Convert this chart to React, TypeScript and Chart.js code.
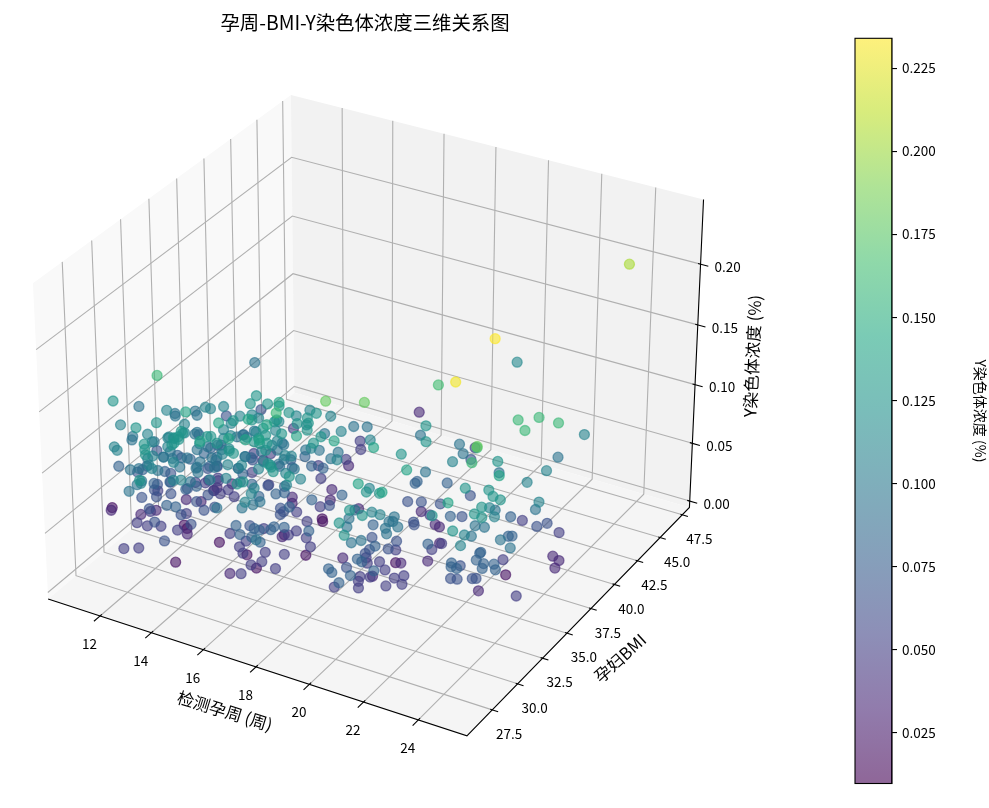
import React, { useEffect, useRef } from "react";
import { Chart, registerables } from "chart.js";
Chart.register(...registerables);

const weeks = [11.9,12.4,10.5,10.1,10.9,12.1,11.7,11.4,11.5,13.6,11.9,12.1,12.7,12.9,13.2,14.4,14.5,11.7,12.5,12.7,12.0,11.0,11.1,
12.9,11.8,11.5,11.7,12.7,12.9,13.6,13.6,13.0,13.7,13.7,12.7,12.7,12.2,14.9,14.6,14.0,14.0,15.6,15.1,12.5,14.3,13.1,13.3,12.9,10.9,12.6,12.6,12.3,13.3,13.7,11.0,12.1,12.3,13.1,12.9,15.0,14.5,13.5,14.9,15.7,14.0,14.0,14.1,16.2,15.0,16.1,13.3,13.0,13.5,14.0,15.7,14.8,14.9,14.0,15.7,15.2,13.9,13.6,15.3,15.1,13.2,18.8,19.9,15.0,15.9,15.4,17.0,15.9,14.6,
15.6,15.8,16.7,16.6,16.5,16.8,17.0,17.5,13.5,16.2,16.6,16.4,17.6,17.4,18.7,17.0,17.4,18.5,15.9,16.2,20.0,15.8,15.8,16.3,15.3,16.4,15.9,15.7,16.6,16.3,15.6,13.7,13.2,15.6,16.4,17.6,17.1,16.8,17.4,17.4,18.2,16.1,15.8,16.1,15.7,16.0,16.7,16.5,15.5,16.9,16.2,17.2,15.6,16.3,14.0,13.5,12.8,12.1,12.6,12.2,12.5,13.0,12.8,13.7,14.0,13.7,12.2,13.8,12.7,14.3,
14.5,15.8,12.1,14.5,14.2,13.9,12.8,13.3,13.9,13.6,13.7,14.1,17.0,16.5,16.7,16.8,16.9,16.8,16.8,16.9,15.7,15.3,9.7,10.4,12.7,11.4,12.2,11.7,13.3,12.2,12.6,13.0,13.8,13.3,12.4,12.6,14.4,13.6,13.4,14.2,12.7,13.1,14.0,13.4,15.9,16.8,16.3,
16.1,15.2,16.7,16.9,17.1,17.1,17.9,15.9,15.9,16.2,15.2,17.5,16.8,15.9,16.0,16.1,18.3,17.6,15.2,16.6,16.4,15.3,16.0,17.6,18.0,17.8,17.4,20.7,20.6,20.0,21.0,21.6,16.4,17.7,16.9,17.2,15.4,16.6,16.4,16.6,16.4,17.5,20.7,19.7,21.2,20.8,21.1,19.8,16.2,16.3,17.0,20.8,20.0,20.1,21.0,21.1,21.0,21.4,21.1,21.3,21.3,20.6,20.8,19.9,20.8,20.2,20.7,20.7,20.4,18.5,
17.5,17.9,16.9,17.0,16.2,16.9,16.2,17.4,16.0,17.7,17.4,16.8,17.0,17.6,17.4,18.6,20.1,20.2,20.7,19.8,20.9,20.0,20.3,19.7,20.7,21.5,20.2,20.4,21.0,20.2,20.3,20.5,20.0,21.2,20.9,19.8,21.2,20.5,16.1,20.2,19.2,20.7,23.9,24.4,24.4,25.1,24.4,20.6,24.3,23.6,19.5,21.0,20.3,23.9,21.5,23.3,23.8,24.4,22.6,24.3,20.5,21.6,20.4,20.0,20.0,20.9,24.2,23.2,23.9,21.4,
24.2,24.5,19.8,20.2,20.8,23.7,25.1,24.7,24.2,23.9,23.6,19.4,20.3,23.1,24.2,22.0,21.8,24.3,24.5,23.7,23.1,20.6,20.7,20.2,20.4,23.5,23.8,24.2,24.4,24.1,24.5,24.0,23.7,24.6,24.2,24.3,22.2,20.9,21.5,24.2,25.1,21.4,23.9,23.9,24.0,24.3,24.6,23.7,24.5,24.8,21.1,23.4,23.2,23.5,23.7,24.4,24.8,24.9,23.2,23.3,23.5,23.9,24.0,21.4,21.6,23.4,25.1,20.4,23.9,23.6,
23.7,20.4,20.8,
12.6,12.9,13.4,12.5,12.8,13.9,13.8,14.1,13.0,14.0,13.8,13.0,13.8,14.4,14.3,12.4,12.1,11.7,13.1,12.5,12.8,12.7,13.1,12.2,11.8,11.8,11.1,12.8,12.8,13.3,12.5,12.7,13.5,13.5,12.4,13.0,13.7,
14.2,14.4,14.8,15.5,14.9,14.5,15.1,14.8,13.8,13.1,15.9,15.9,16.0,16.5,15.9,15.5,15.5,17.0,16.5,16.1,16.6,16.8,14.4,14.3,13.5,14.3,14.3,13.1,13.2,13.0,13.0,15.0,15.4,14.7,16.4,17.2,16.0,12.7];

const bmis = [39.8,29.8,30.1,33.2,29.8,28.5,32.1,33.5,33.3,29.5,34.2,33.9,33.3,33.3,33.8,34.0,33.2,37.5,29.4,31.4,29.7,30.6,30.3,
27.4,30.7,27.9,27.7,29.9,30.0,28.8,29.2,30.7,28.2,28.6,32.5,32.3,33.8,29.4,31.4,32.6,33.4,30.4,31.9,38.9,33.8,27.0,26.6,28.1,32.9,29.7,30.3,31.6,30.2,28.1,29.3,27.9,28.2,27.3,28.5,27.5,29.6,31.6,29.2,28.4,31.9,33.1,33.4,28.7,32.5,30.2,31.1,32.4,32.4,31.7,28.8,30.5,31.7,34.5,29.5,32.5,29.7,31.5,29.2,30.6,33.1,29.7,30.5,33.6,32.5,33.7,29.6,33.4,33.7,
34.8,35.6,34.0,33.4,32.7,33.0,32.4,30.2,39.6,34.3,35.6,35.5,32.2,34.6,30.7,36.8,37.1,34.6,40.2,39.5,31.1,32.5,32.3,30.4,33.9,31.5,32.3,31.5,29.0,30.4,33.6,36.9,36.5,33.0,33.7,31.5,32.5,34.0,34.3,33.6,32.2,38.3,39.3,32.4,34.0,34.6,31.9,34.0,37.1,34.1,30.3,28.6,33.2,29.6,24.5,25.7,26.2,28.8,28.8,29.7,29.2,29.3,29.8,27.4,27.5,29.1,32.5,29.8,32.7,29.3,
29.8,27.0,31.4,26.9,28.4,29.6,32.9,32.5,30.6,32.4,32.9,32.5,26.7,27.6,28.1,28.5,27.5,28.0,26.5,26.8,28.1,27.6,31.4,29.8,28.1,30.2,29.3,30.9,27.2,28.1,28.1,28.4,28.4,30.0,31.8,31.6,27.9,28.5,29.8,26.0,25.8,26.2,31.3,28.7,27.8,26.7,27.5,29.2,29.5,26.9,27.7,27.7,27.0,25.5,29.3,28.7,28.3,31.0,26.8,27.6,30.2,36.1,36.9,32.4,31.3,35.3,31.2,30.9,32.8,30.3,
29.0,28.3,29.8,28.3,27.9,28.9,30.7,29.1,27.8,36.0,32.7,33.8,30.2,34.8,31.1,31.3,30.8,32.8,36.0,27.1,30.1,27.0,28.9,28.9,29.3,35.7,35.5,32.3,25.9,28.6,30.8,30.5,30.1,30.0,29.8,29.4,29.0,25.1,27.5,27.9,31.2,29.2,30.2,30.7,31.5,32.2,28.8,31.0,30.4,32.4,31.3,32.1,30.8,31.9,28.0,30.7,28.5,28.3,28.9,28.1,27.9,29.2,31.7,28.3,29.8,27.8,30.9,27.7,30.5,30.9,
34.0,30.4,27.3,26.4,26.2,26.4,29.3,28.9,29.5,31.0,30.0,25.6,27.9,29.2,28.4,45.7,35.6,37.7,34.3,34.7,35.4,34.0,35.4,40.2,37.9,29.6,31.5,42.5,37.2,39.9,30.2,34.8,34.4,39.2,36.3,36.5,31.8,34.8,30.1,32.7,35.1,35.3,35.9,34.9,31.5,31.9,36.9,31.5,31.4,34.9,35.2,35.5,28.5,33.6,34.4,30.4,32.0,33.4,37.3,35.8,28.6,29.7,33.3,35.0,31.4,29.6,34.7,37.6,33.4,33.2,
36.6,36.5,31.7,31.8,36.0,36.5,27.9,37.5,29.3,30.8,31.2,33.1,33.2,30.6,35.2,33.8,28.4,30.8,33.1,31.2,31.1,30.5,30.4,30.6,34.0,36.9,36.7,33.5,29.7,31.1,29.4,29.4,30.0,30.2,36.0,35.7,29.9,30.0,30.4,30.5,30.4,29.7,32.4,31.5,32.7,46.0,33.1,29.1,44.3,35.2,
29.7,29.8,29.3,31.5,31.6,29.6,30.2,29.3,32.7,30.8,31.7,33.0,30.2,29.5,26.7,30.7,30.2,31.1,30.6,32.7,33.2,33.9,33.4,29.2,30.0,29.6,30.7,27.3,26.9,27.1,30.0,30.0,28.6,29.3,29.2,29.2,28.0,
30.7,30.1,29.9,28.9,31.7,33.2,30.6,31.7,34.9,37.6,30.2,30.6,31.0,29.8,31.8,33.7,33.1,28.8,30.2,31.9,31.3,31.4,31.6,31.2,34.9,33.3,34.0,33.4,33.5,33.6,34.9,31.0,31.1,34.3,31.7,29.9,33.4,34.2];

const concs = [.095,.16,.125,.095,.11,.125,.11,.095,.095,.14,.095,.095,.11,.11,.11,.125,.125,.065,.125,.11,.11,.095,.095,.125,.095,.11,.11,.11,.11,.125,.125,.11,.125,.125,.095,.095,.08,.14,.125,.11,.11,.14,.125,.065,.11,.125,.125,.11,.065,.095,.095,.08,.095,.11,.08,.095,.095,.11,.095,.14,.125,.095,.125,.14,.11,.095,.095,.14,.11,.125,.095,.08,.08,.095,.125,.11,.095,.065,.11,.095,.095,.08,.11,.095,.065,
.18,.18,.125,.14,.125,.16,.125,.11,.11,.11,.125,.125,.125,.125,.125,.14,.05,.11,.11,.095,.125,.11,.14,.095,.095,.11,.05,.05,.14,.125,.125,.14,.11,.125,.11,.125,.14,.125,.095,.05,.05,.095,.095,.125,.11,.095,.095,.095,.11,.05,.035,.095,.08,.08,.095,.08,.05,.08,.11,.125,.08,.11,
.125,.11,.095,.065,.08,.065,.065,.08,.065,.08,.08,.08,.035,.065,.035,.065,.065,.095,.065,.11,.095,.08,.05,.05,.065,.05,.05,.05,.11,.095,.095,.095,.11,.11,.125,.125,.11,.11,.02,.035,.065,.035,.05,.035,.065,.05,.05,.05,.065,.05,.02,.02,.065,.05,.035,.065,.05,.05,.02,.02,.035,.05,.08,.065,.05,.08,.08,.08,.08,.095,.05,.05,.05,.02,.08,.05,.02,
.05,.035,.08,.08,.035,.08,.08,.065,.08,.11,.125,.11,.125,.14,.125,.11,.125,.14,.035,.065,.05,.08,.035,.065,.065,.065,.05,.035,.125,.095,.125,.11,.11,.095,.02,.02,.05,.125,.095,.08,.095,.095,.095,.095,.095,.095,.125,.095,.095,.065,.08,.065,.065,.065,.05,.08,.05,.05,.02,.05,.035,.05,.035,.08,.05,.08,.08,.05,.05,.05,.05,.035,.065,.065,.08,.05,.08,.05,.05,.02,.05,.08,.08,.08,.08,.05,.05,.05,.035,.05,.08,.05,.05,.05,
.035,.125,.095,.125,.16,.16,.16,.16,.11,.095,.18,.16,.05,.095,.065,.16,.11,.125,.095,.11,.095,.14,.095,.14,.125,.08,.08,.08,.11,.125,.125,.065,.125,.125,.065,.065,.065,.14,.11,.095,.125,.11,.095,.035,.05,.125,.125,.08,.065,.11,.125,.08,.05,.065,.065,.035,.035,.095,.095,.065,.065,.125,.05,.11,.095,.095,.08,.08,.08,.035,.05,.11,.095,.05,.08,.08,.08,.08,.08,.05,.035,.035,.035,.08,.065,.08,.08,.08,.08,.035,.02,.065,.065,.065,.065,.05,.05,.035,.05,.035,
.205,.234,.23,.115,.165,
.095,.095,.095,.08,.08,.095,.095,.095,.065,.095,.08,.08,.11,.125,.11,.065,.065,.05,.065,.05,.05,.035,.05,.095,.08,.08,.065,.095,.095,.11,.08,.11,.125,.125,.11,.11,.125,
.095,.095,.11,.125,.095,.08,.095,.08,.05,.035,.125,.125,.125,.125,.11,.095,.11,.125,.11,.095,.11,.11,.11,.11,.08,.095,.095,.08,.08,.05,.035,.08,.08,.05,.08,.11,.08,.035];

const weekTicks = [12, 14, 16, 18, 20, 22, 24];
const bmiTicks = [27.5, 30, 32.5, 35, 37.5, 40, 42.5, 45, 47.5];
const concTicks = [0, 0.05, 0.1, 0.15, 0.2];
const barTicks = [0.025, 0.05, 0.075, 0.1, 0.125, 0.15, 0.175, 0.2, 0.225];
const VMIN = 0.0097, VMAX = 0.234;
const VIRIDIS = [[68,1,84],[72,36,117],[65,68,135],[53,95,141],[42,120,142],[33,145,140],[34,168,132],[68,191,112],[122,209,81],[189,223,38],[253,231,37]];
const ALPHA = 0.6;

const viridis = (t: number) => {
  const f = Math.max(0, Math.min(1, t)) * 10, i = Math.min(9, Math.floor(f)), r = f - i;
  const c = VIRIDIS[i].map((v, n) => Math.round(v + (VIRIDIS[i + 1][n] - v) * r));
  return `rgba(${c[0]},${c[1]},${c[2]},${ALPHA})`;
};

// matplotlib's mplot3d projection: elev 30, azim -60, box aspect 4:4:3
const BX = 1.1905, BY = 1.1905, BZ = 0.8929, K = 4030, CX = 374.7, CY = 400;
const AU = [0.866025, 0.5, 0], AV = [-0.25, 0.43301, 0.866025], AW = [0.43301, -0.75, 0.5];
const X0 = 9.95, X1 = 25.75, Y0 = 25.06, Y1 = 48.31, Z0 = -0.0056, Z1 = 0.2522;
const dot = (a: number[], b: number[]) => a[0] * b[0] + a[1] * b[1] + a[2] * b[2];
const project = (x: number, y: number, z: number) => {
  const q = [BX * ((x - X0) / (X1 - X0) - 0.5), BY * ((y - Y0) / (Y1 - Y0) - 0.5), BZ * ((z - Z0) / (Z1 - Z0) - 0.5)];
  const d = 10 - dot(q, AW);
  return { x: CX + (K * dot(q, AU)) / d, y: CY - (K * dot(q, AV)) / d, d };
};

const SANS = '"Noto Sans CJK SC"';
const GRID = "rgb(176,176,176)";

const axes3d = {
  id: "axes3d",
  beforeDatasetsDraw(chart: any) {
    const { ctx } = chart;
    const sx = chart.scales.x, sy = chart.scales.y;
    const P = (x: number, y: number, z: number) => {
      const p = project(x, y, z);
      return [sx.getPixelForValue(p.x), sy.getPixelForValue(p.y)];
    };
    const path = (pts: number[][], stroke?: string, w?: number, fill?: string) => {
      ctx.beginPath();
      pts.forEach((p, i) => (i ? ctx.lineTo(p[0], p[1]) : ctx.moveTo(p[0], p[1])));
      if (fill) { ctx.closePath(); ctx.fillStyle = fill; ctx.fill(); }
      if (stroke) { ctx.strokeStyle = stroke; ctx.lineWidth = w; ctx.stroke(); }
    };
    const text = (s: string, x: number, y: number, font: string, rot = 0) => {
      ctx.save();
      ctx.translate(x, y);
      ctx.rotate((rot * Math.PI) / 180);
      ctx.font = font;
      ctx.fillStyle = "#000";
      ctx.textAlign = "center";
      ctx.textBaseline = "middle";
      ctx.fillText(s, 0, 0);
      ctx.restore();
    };
    ctx.save();
    path([P(X0, Y0, Z0), P(X0, Y1, Z0), P(X0, Y1, Z1), P(X0, Y0, Z1)], undefined, 0, "rgb(249,249,249)");
    path([P(X0, Y1, Z0), P(X1, Y1, Z0), P(X1, Y1, Z1), P(X0, Y1, Z1)], undefined, 0, "rgb(242,242,242)");
    path([P(X0, Y0, Z0), P(X1, Y0, Z0), P(X1, Y1, Z0), P(X0, Y1, Z0)], undefined, 0, "rgb(245,245,245)");
    const LW = 1.1;
    weekTicks.forEach((t) => path([P(t, Y0, Z0), P(t, Y1, Z0), P(t, Y1, Z1)], GRID, LW));
    bmiTicks.forEach((t) => path([P(X1, t, Z0), P(X0, t, Z0), P(X0, t, Z1)], GRID, LW));
    concTicks.forEach((t) => path([P(X0, Y0, t), P(X0, Y1, t), P(X1, Y1, t)], GRID, LW));
    path([P(X0, Y0, Z0), P(X1, Y0, Z0), P(X1, Y1, Z0), P(X1, Y1, Z1)], "#000", LW);
    const dx = X1 - X0, dy = Y1 - Y0;
    const tickFont = `13.5px ${SANS}`;
    weekTicks.forEach((t) => {
      path([P(t, Y0 - 0.023 * dy, Z0), P(t, Y0 + 0.007 * dy, Z0)], "#000", LW);
      const p = P(t, Y0, Z0);
      text(String(t), p[0] - 10.5, p[1] + 28, tickFont);
    });
    bmiTicks.forEach((t) => {
      path([P(X1 - 0.0045 * dx, t, Z0), P(X1 + 0.0135 * dx, t, Z0)], "#000", LW);
      const p = P(X1, t, Z0);
      text(t.toFixed(1), p[0] + 17, p[1] + 24, tickFont);
    });
    concTicks.forEach((t) => {
      path([P(X1 - 0.006 * dx, Y1, t), P(X1 + 0.018 * dx, Y1, t)], "#000", LW);
      const p = P(X1, Y1, t);
      text(t.toFixed(2), p[0] + 27, p[1] + 2.5, tickFont);
    });
    text("孕周-BMI-Y染色体浓度三维关系图", 365, 23, `19.4px ${SANS}`);
    text("检测孕周 (周)", 225, 711, `16.7px ${SANS}`, 17);
    text("孕妇BMI", 620, 658, `16.7px ${SANS}`, -42);
    text("Y染色体浓度 (%)", 752.5, 356, `16.7px ${SANS}`, -87.5);
    ctx.restore();
  },
};

const barFrame = {
  id: "barFrame",
  afterDatasetsDraw(chart: any) {
    const { ctx, chartArea: a } = chart;
    ctx.save();
    ctx.strokeStyle = "#000";
    ctx.lineWidth = 1.1;
    ctx.strokeRect(a.left, a.top, a.right - a.left, a.bottom - a.top);
    ctx.restore();
  },
};

export default function App() {
  const mainRef = useRef<HTMLCanvasElement>(null);
  const barRef = useRef<HTMLCanvasElement>(null);
  useEffect(() => {
    const rows = weeks.map((w, i) => {
      const p = project(w, bmis[i], concs[i]);
      return { x: p.x, y: p.y, d: p.d, c: concs[i] };
    });
    rows.sort((a, b) => b.d - a.d);
    const colors = rows.map((r) => viridis((r.c - VMIN) / (VMAX - VMIN)));
    const main = new Chart(mainRef.current!, {
      type: "scatter",
      data: {
        datasets: [{
          data: rows.map((r) => ({ x: r.x, y: r.y })),
          pointRadius: 5,
          pointBackgroundColor: colors,
          pointBorderColor: colors,
          pointBorderWidth: 1.3,
        }],
      },
      options: {
        responsive: false,
        animation: false,
        layout: { padding: 0, autoPadding: false },
        plugins: { legend: { display: false }, tooltip: { enabled: false } },
        scales: {
          x: { type: "linear", display: false, min: 0, max: 989 },
          y: { type: "linear", display: false, min: 0, max: 808, reverse: true },
        },
      },
      plugins: [axes3d],
    } as any);
    const bar = new Chart(barRef.current!, {
      type: "bar",
      data: {
        labels: ["c"],
        datasets: [{
          data: [[VMIN, VMAX]],
          barPercentage: 1,
          categoryPercentage: 1,
          backgroundColor: (ctx: any) => {
            const a = ctx.chart.chartArea;
            if (!a) return "transparent";
            const g = ctx.chart.ctx.createLinearGradient(0, a.bottom, 0, a.top);
            VIRIDIS.forEach((_, i) => g.addColorStop(i / 10, viridis(i / 10)));
            return g;
          },
        }],
      },
      options: {
        responsive: false,
        animation: false,
        layout: { padding: { left: 55, top: 38.3, bottom: 24.5, right: 0 }, autoPadding: false },
        plugins: { legend: { display: false }, tooltip: { enabled: false } },
        scales: {
          x: { display: false },
          y: {
            position: "right",
            min: VMIN,
            max: VMAX,
            afterBuildTicks: (s: any) => { s.ticks = barTicks.map((value) => ({ value })); },
            afterFit: (s: any) => { s.width = 97; },
            border: { color: "#000", width: 1.1 },
            grid: { drawOnChartArea: false, color: "#000", tickLength: 5, lineWidth: 1.1 },
            ticks: { color: "#000", padding: 5, font: { family: SANS, size: 13.5 }, callback: (v: any) => Number(v).toFixed(3) },
            title: { display: true, text: "Y染色体浓度 (%)", color: "#000", font: { family: SANS, size: 14 }, padding: { top: 0, bottom: 40 } },
          },
        },
      },
      plugins: [barFrame],
    } as any);
    return () => { main.destroy(); bar.destroy(); };
  }, []);
  return (
    <div style={{ position: "absolute", left: 0, top: 0, width: 989, height: 808, background: "#fff" }}>
      <canvas ref={mainRef} width={989} height={808} style={{ position: "absolute", left: 0, top: 0 }} />
      <canvas ref={barRef} width={189} height={808} style={{ position: "absolute", left: 800, top: 0 }} />
    </div>
  );
}
